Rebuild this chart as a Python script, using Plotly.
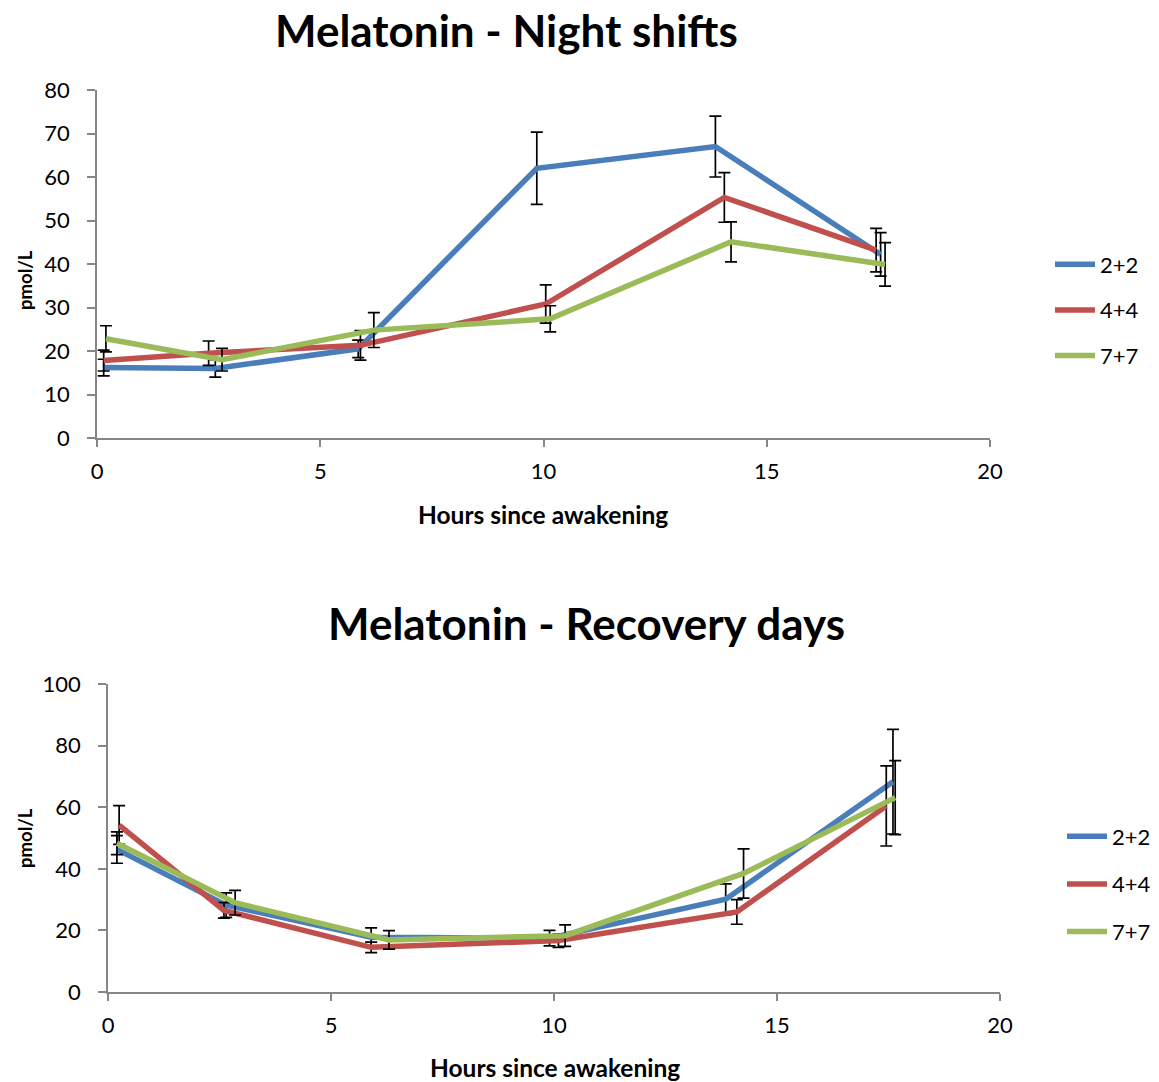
import plotly.graph_objects as go

# ---- data: Night shifts ----
night_x_22 = [0.15, 2.65, 5.85, 9.85, 13.85, 17.55]
night_y_22 = [16.2, 16.0, 20.5, 62.0, 67.0, 42.2]
night_e_22 = [1.9, 2.0, 2.0, 8.3, 7.0, 5.0]
night_x_44 = [0.15, 2.5, 5.9, 10.05, 14.05, 17.45]
night_y_44 = [17.8, 19.5, 21.3, 30.8, 55.3, 43.2]
night_e_44 = [2.4, 2.8, 3.4, 4.4, 5.7, 5.0]
night_x_77 = [0.2, 2.8, 6.2, 10.15, 14.2, 17.65]
night_y_77 = [22.8, 18.0, 24.8, 27.4, 45.1, 39.9]
night_e_77 = [3.0, 2.6, 4.0, 3.0, 4.6, 5.0]

# ---- data: Recovery days ----
rec_x_22 = [0.2, 2.65, 5.9, 9.9, 13.85, 17.6]
rec_y_22 = [46.3, 28.2, 17.8, 17.5, 30.1, 68.3]
rec_e_22 = [4.5, 4.0, 3.0, 2.5, 5.0, 17.0]
rec_x_44 = [0.25, 2.6, 5.9, 10.1, 14.1, 17.45]
rec_y_44 = [54.2, 26.5, 14.5, 16.7, 26.0, 60.4]
rec_e_44 = [6.3, 2.5, 1.7, 2.2, 4.0, 13.0]
rec_x_77 = [0.2, 2.85, 6.3, 10.25, 14.25, 17.65]
rec_y_77 = [48.3, 29.0, 16.9, 18.3, 38.5, 63.1]
rec_e_77 = [3.7, 4.0, 3.0, 3.5, 8.0, 12.0]

series_names = ["2+2", "4+4", "7+7"]
colors = ["#4A7EBB", "#C0504D", "#9BBB59"]

FONT = "Lato"

fig = go.Figure()

night = [(night_x_22, night_y_22, night_e_22), (night_x_44, night_y_44, night_e_44), (night_x_77, night_y_77, night_e_77)]
rec = [(rec_x_22, rec_y_22, rec_e_22), (rec_x_44, rec_y_44, rec_e_44), (rec_x_77, rec_y_77, rec_e_77)]

for i, (xs, ys, es) in enumerate(night):
    fig.add_trace(go.Scatter(
        x=xs, y=ys, mode="lines", name=series_names[i],
        line=dict(color=colors[i], width=5.5),
        error_y=dict(type="data", array=es, visible=True, color="black", thickness=1.7, width=6),
        xaxis="x", yaxis="y", legend="legend", legendgroup="n" + str(i),
    ))
for i, (xs, ys, es) in enumerate(rec):
    fig.add_trace(go.Scatter(
        x=xs, y=ys, mode="lines", name=series_names[i],
        line=dict(color=colors[i], width=5.5),
        error_y=dict(type="data", array=es, visible=True, color="black", thickness=1.7, width=6),
        xaxis="x2", yaxis="y2", legend="legend2", legendgroup="r" + str(i),
    ))

W, H = 1159, 1082
def px_x(p):
    return p / W
def px_y(p):
    return 1 - p / H

axis_common = dict(
    showgrid=False, zeroline=False, showline=True, linecolor="#868686", linewidth=1.5,
    ticks="outside", tickcolor="#868686", tickwidth=1.5, automargin=False,
    tickfont=dict(family=FONT, size=22, color="black"),
)
xaxis_common = dict(axis_common, ticklen=7, ticklabelstandoff=6)
yaxis_common = dict(axis_common, ticklen=8, ticklabelstandoff=13)

title_font = dict(family=FONT, size=44, color="black")
axtitle_font = dict(family=FONT, size=24.5, color="black")
yt_font = dict(family=FONT, size=18.5, color="black")

fig.update_layout(
    template="none",
    width=W, height=H, margin=dict(l=0, r=0, t=0, b=0, pad=0, autoexpand=False),
    paper_bgcolor="white", plot_bgcolor="white",
    font=dict(family=FONT, color="black"),
    xaxis=dict(xaxis_common, domain=[px_x(97), px_x(990)], range=[0, 20], dtick=5, anchor="y"),
    yaxis=dict(yaxis_common, domain=[px_y(438), px_y(90)], range=[0, 80], dtick=10, anchor="x"),
    xaxis2=dict(xaxis_common, domain=[px_x(108), px_x(1000)], range=[0, 20], dtick=5, anchor="y2"),
    yaxis2=dict(yaxis_common, domain=[px_y(992), px_y(684)], range=[0, 100], dtick=20, anchor="x2"),
    legend=dict(x=px_x(1050), y=px_y(310), xanchor="left", yanchor="middle",
                font=dict(family=FONT, size=22), tracegroupgap=14, bgcolor="rgba(0,0,0,0)",
                borderwidth=0, itemwidth=40),
    legend2=dict(x=px_x(1062), y=px_y(884), xanchor="left", yanchor="middle",
                 font=dict(family=FONT, size=22), tracegroupgap=16, bgcolor="rgba(0,0,0,0)",
                 borderwidth=0, itemwidth=40),
    annotations=[
        dict(text="<b>Melatonin - Night shifts</b>", x=px_x(506), y=px_y(30), xref="paper", yref="paper",
             showarrow=False, xanchor="center", yanchor="middle", font=title_font),
        dict(text="<b>Melatonin - Recovery days</b>", x=px_x(586), y=px_y(623), xref="paper", yref="paper",
             showarrow=False, xanchor="center", yanchor="middle", font=title_font),
        dict(text="<b>Hours since awakening</b>", x=px_x(543), y=px_y(514), xref="paper", yref="paper",
             showarrow=False, xanchor="center", yanchor="middle", font=axtitle_font),
        dict(text="<b>Hours since awakening</b>", x=px_x(555), y=px_y(1067), xref="paper", yref="paper",
             showarrow=False, xanchor="center", yanchor="middle", font=axtitle_font),
        dict(text="<b>pmol/L</b>", x=px_x(25), y=px_y(280), xref="paper", yref="paper", textangle=-90,
             showarrow=False, xanchor="center", yanchor="middle", font=yt_font),
        dict(text="<b>pmol/L</b>", x=px_x(25), y=px_y(838), xref="paper", yref="paper", textangle=-90,
             showarrow=False, xanchor="center", yanchor="middle", font=yt_font),
    ],
)

fig.write_html("out.html", post_script="document.body.style.margin='0';document.documentElement.style.overflow='hidden';")
